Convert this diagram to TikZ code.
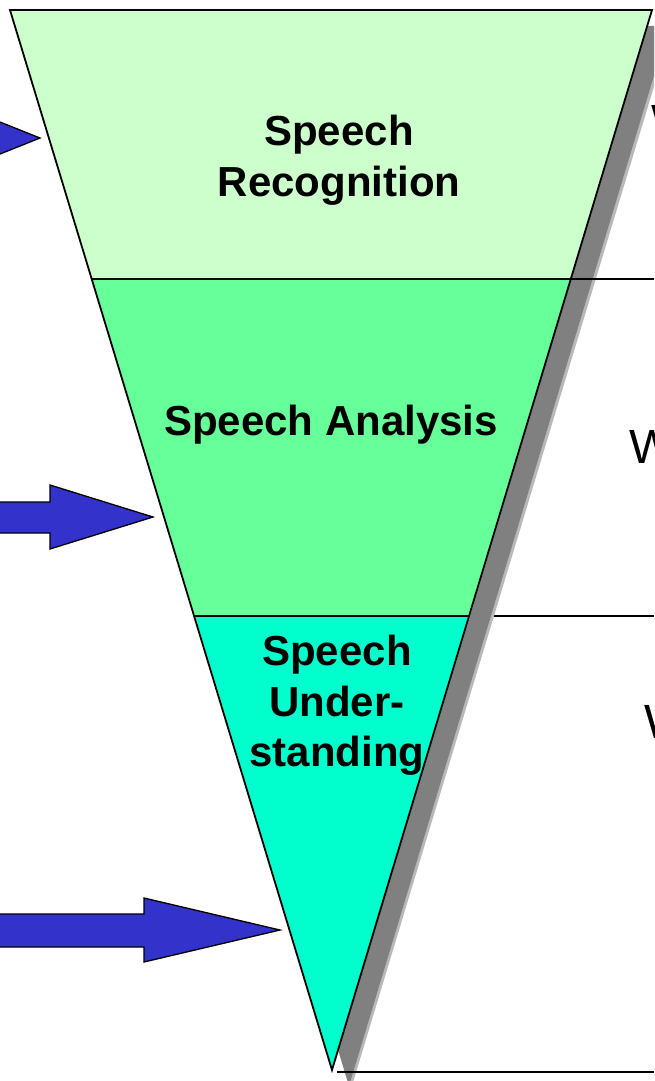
\documentclass[tikz,border=0pt]{standalone}
\usepackage{fontspec}
\setmainfont{Liberation Sans}
\definecolor{recfill}{HTML}{CCFFCC}
\definecolor{anafill}{HTML}{66FF99}
\definecolor{undfill}{HTML}{00FFCC}
\definecolor{arrowblue}{HTML}{3333CC}
\definecolor{shadowgray}{HTML}{808080}
\begin{document}
\begin{tikzpicture}[x=1pt,y=-1pt,
  outline/.style={draw=black,line width=1.8pt,line join=miter},
  divider/.style={draw=black,line width=1.8pt},
  label/.style={font=\fontsize{42}{52}\selectfont\bfseries,inner sep=0pt,anchor=base},
  sidetext/.style={font=\fontsize{48}{56}\selectfont,inner sep=0pt,anchor=base west},
  bluearrow/.style={fill=arrowblue,draw=black,line width=1.3pt,line join=miter}]
\useasboundingbox (0,0) rectangle (654,1081);
\clip (0,0) rectangle (654,1081);
% funnel corners
\coordinate (A) at (10,10);
\coordinate (B) at (652,10);
\coordinate (C) at (332,1070);
\coordinate (L1) at (92,279);
\coordinate (R1) at (571,279);
\coordinate (L2) at (195,616);
\coordinate (R2) at (470,616);
\coordinate (E1) at (654,279);
\coordinate (E2) at (654,616);
\coordinate (F0) at (337,1072);
\coordinate (E3) at (654,1072);
% divider running under the shadow
\draw[divider] (L2) -- (E2);
% shadow
\fill[shadowgray!55] (29,27) -- (672,27) -- (351,1089) -- cycle;
\fill[shadowgray] (27,26) -- (669,26) -- (349,1086) -- cycle;
% bands
\fill[recfill] (A) -- (B) -- (R1) -- (L1) -- cycle;
\fill[anafill] (L1) -- (R1) -- (R2) -- (L2) -- cycle;
\fill[undfill] (L2) -- (R2) -- (C) -- cycle;
\draw[outline] (A) -- (B) -- (C) -- cycle;
% dividers
\draw[divider] (L1) -- (E1);
\draw[divider] (L2) -- (R2);
\draw[divider] (F0) -- (E3);
% labels
\node[label] (rec1) at (339,145) {Speech};
\node[label] (rec2) at (339,196) {Recognition};
\node[label] (ana) at (331,435) {Speech Analysis};
\node[label] (und1) at (337,665) {Speech};
\node[label] (und2) at (337,716) {Under-};
\node[label] (und3) at (337,766) {standing};
% partial side texts
\node[sidetext] (w1) at (651,138) {W};
\node[sidetext] (w2) at (629,463) {W};
\node[sidetext] (w3) at (644,738) {W};
% arrows
\coordinate (T1) at (40,138);
\coordinate (T2) at (153,517);
\coordinate (T3) at (280,930);
\filldraw[bluearrow] (-200,122) -- (-40,122) -- (-40,106) -- (T1) -- (-40,170) -- (-40,154) -- (-200,154) -- cycle;
\filldraw[bluearrow] (-20,502) -- (50,502) -- (50,485) -- (T2) -- (50,549) -- (50,533) -- (-20,533) -- cycle;
\filldraw[bluearrow] (-20,914) -- (144,914) -- (144,898) -- (T3) -- (144,962) -- (144,947) -- (-20,947) -- cycle;
\end{tikzpicture}
\end{document}
